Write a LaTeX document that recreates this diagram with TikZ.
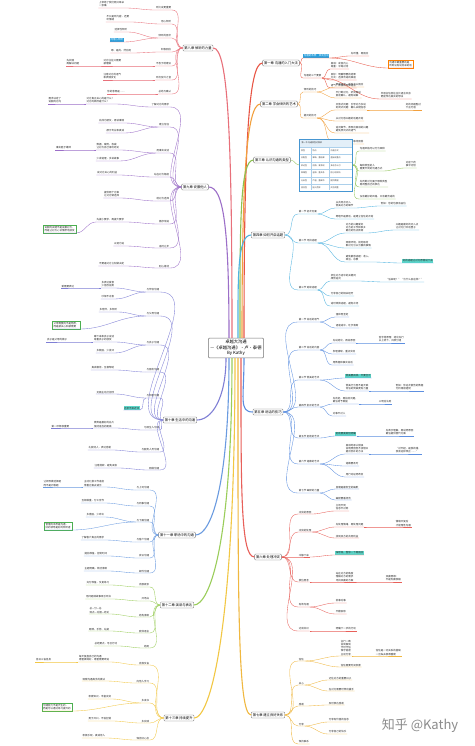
\documentclass[tikz,border=0pt]{standalone}
\usepackage{fontspec}
\setmainfont{Noto Sans CJK SC}
\definecolor{ka}{HTML}{E85545}
\definecolor{kb}{HTML}{F2A03D}
\definecolor{kc}{HTML}{8CC152}
\definecolor{kd}{HTML}{4FB3E0}
\definecolor{ke}{HTML}{5D8FE0}
\definecolor{kf}{HTML}{E8605A}
\definecolor{kg}{HTML}{F0B840}
\definecolor{kh}{HTML}{E8707A}
\definecolor{ki}{HTML}{9C6FC8}
\definecolor{kj}{HTML}{7F7FD5}
\definecolor{kk}{HTML}{6A9BE0}
\definecolor{kl}{HTML}{9ACD5A}
\definecolor{km}{HTML}{F2C744}
\definecolor{tb}{HTML}{4696D2}
\tikzset{
  chap/.style={draw=black!55, fill=white, rounded corners=1pt, font=\fontsize{3.3}{3.9}\selectfont, inner sep=1.5pt, line width=0.35pt},
  lfR/.style={anchor=south west, font=\fontsize{2.5}{3.1}\selectfont, inner sep=0.6pt, align=left, text=black!85},
  lfL/.style={anchor=south east, font=\fontsize{2.5}{3.1}\selectfont, inner sep=0.6pt, align=left, text=black!85},
  br/.style={line width=0.35pt},
  mainbr/.style={line width=1.1pt},
  hlblue/.style={fill={rgb,255:red,43;green,160;blue,220}, text=white},
  hlteal/.style={fill={rgb,255:red,92;green,214;blue,201}},
  gbox/.style={draw={rgb,255:red,76;green,175;blue,80}, fill=white, inner sep=1.2pt, line width=0.35pt},
  obox/.style={draw=orange, fill=white, inner sep=1.2pt, line width=0.35pt},
  cell/.style={anchor=west, font=\fontsize{2}{2.4}\selectfont, inner sep=0.3pt, text=black!75},
}
\newcommand\mmR[6][]{%
  \node[lfR,#1] (#5) at (#4) {#6};
  \draw[br,#3] (#2) to[out=0,in=180] (#5.south west) -- (#5.south east);
}
\newcommand\mmL[6][]{%
  \node[lfL,#1] (#5) at (#4) {#6};
  \draw[br,#3] (#2) to[out=180,in=0] (#5.south east) -- (#5.south west);
}
\begin{document}
\begin{tikzpicture}[x=1pt,y=-1pt]
\fill[white] (0,0) rectangle (474,746);
\useasboundingbox (0,0) rectangle (474,746);

% centre
\node[draw=black!55, fill=white, rounded corners=1pt, align=center, font=\fontsize{4.3}{5.6}\selectfont, inner sep=2pt, line width=0.4pt] (ctr) at (236,348) {卓越大沟通\\—《卓越沟通》·卢·泰德\\By Kathy};

% chapters
\node[chap] (c1) at (281,63) {第一章 沟通的入门大法};
\node[chap] (c2) at (279,104) {第二章 学会倾听的艺术};
\node[chap] (c3) at (272,160) {第三章 认识沟通的类型};
\node[chap] (c4) at (268,235) {第四章 如何开启话题};
\node[chap] (c5) at (268,412) {第五章 说话的技巧};
\node[chap] (c6) at (268,557) {第六章 处理冲突};
\node[chap] (c7) at (268,715) {第七章 建立良好关系};
\node[chap] (c8) at (198,48) {第八章 倾听的力量};
\node[chap] (c9) at (195,187) {第九章 说服他人};
\node[chap] (c10) at (180,420) {第十章 生活中的沟通};
\node[chap] (c11) at (177,535) {第十一章 职场中的沟通};
\node[chap] (c12) at (177,605) {第十二章 演讲与表达};
\node[chap] (c13) at (179,718) {第十三章 持续提升};

% main branches
\draw[mainbr,ka] ([xshift=8pt]ctr.north) .. controls +(0,-190) and +(-14,0) .. (c1.west);
\draw[mainbr,kb] ([xshift=6pt]ctr.north) .. controls +(0,-160) and +(-14,0) .. (c2.west);
\draw[mainbr,kc] ([xshift=4pt]ctr.north) .. controls +(0,-110) and +(-14,0) .. (c3.west);
\draw[mainbr,kd] ([xshift=2pt]ctr.north) .. controls +(0,-60) and +(-14,0) .. (c4.west);
\draw[mainbr,ke] ([xshift=8pt]ctr.south) .. controls +(0,40) and +(-14,0) .. (c5.west);
\draw[mainbr,kf] ([xshift=5pt]ctr.south) .. controls +(0,130) and +(-14,0) .. (c6.west);
\draw[mainbr,kg] ([xshift=2pt]ctr.south) .. controls +(0,230) and +(-14,0) .. (c7.west);
\draw[mainbr,kh] ([xshift=-4pt]ctr.north) .. controls +(0,-200) and +(15,0) .. (c8.east);
\draw[mainbr,ki] ([xshift=-7pt]ctr.north) .. controls +(0,-110) and +(15,0) .. (c9.east);
\draw[mainbr,kj] ([xshift=-10pt]ctr.south) .. controls +(0,40) and +(15,0) .. (c10.east);
\draw[mainbr,kk] ([xshift=-7pt]ctr.south) .. controls +(0,130) and +(15,0) .. (c11.east);
\draw[mainbr,kl] ([xshift=-4pt]ctr.south) .. controls +(0,190) and +(15,0) .. (c12.east);
\draw[mainbr,km] ([xshift=-1pt]ctr.south) .. controls +(0,280) and +(15,0) .. (c13.east);

% ---- chapter 1
\mmR[hlblue]{c1.east}{ka}{303,58}{s1a}{沟通的本质：双向互动}
\mmR{s1a.south east}{ka}{350,56}{l1a}{先听懂，再回应}
\mmR[obox]{s1a.south east}{ka}{388,68}{l1b}{沟通中最重要的是\\听到没有说出来的话}
\mmR{c1.east}{ka}{303,78}{s1b}{沟通的三个要素}
\mmR{s1b.south east}{ka}{330,69}{l1c}{真诚：发自内心\\尊重：平等对待}
\mmR{s1b.south east}{ka}{330,80}{l1d}{目标：明确想要的结果\\方式：选择合适的渠道}
\mmR{s1b.south east}{ka}{330,88}{l1e}{语气、表情和肢体语言}
\mmR{s1b.south east}{ka}{380,99}{l1f}{非语言信息往往比语言本身\\更能传达真实的想法}

% ---- chapter 2
\mmR{c2.east}{kb}{303,92}{s2a}{倾听的技巧}
\mmR{s2a.south east}{kb}{335,87}{l2a}{眼神交流，适时点头回应}
\mmR{s2a.south east}{kb}{335,98}{l2b}{不打断对方，听完再说\\复述确认，避免误解}
\mmR{c2.east}{kb}{303,118}{s2b}{提问的技巧}
\mmR{s2b.south east}{kb}{335,110}{l2c}{开放式问题：引导对方多说\\封闭式问题：确认关键信息}
\mmR{s2b.south east}{kb}{335,121}{l2d}{从对方感兴趣的话题开始}
\mmR{s2b.south east}{kb}{335,133}{l2e}{追问细节，表现出真诚的兴趣\\避免质问式的语气}
\mmR{s2b.south east}{kb}{335,144}{l2f}{提问之后要耐心等待回答}
\mmR{l2c.south east}{kb}{405,110}{l2g}{好的问题胜过\\千言万语}

% ---- chapter 3 (table picture)
\node[draw=tb, line width=0.6pt, fill=white, minimum width=53pt, minimum height=52pt, inner sep=0pt] (tbl) at (326,165) {};
\fill[tb!15] ([shift={(1,1)}]tbl.north west) rectangle ([shift={(-1,8)}]tbl.north east);
\node[cell, text=black!85] (tt) at ([shift={(2,4.5)}]tbl.north west) {第一节 沟通类型对照表};
\foreach \r in {8,15.5,23,30.5,38,45.5} {\draw[tb!45, line width=0.2pt] ([shift={(1,\r)}]tbl.north west) -- ([shift={(-1,\r)}]tbl.north east);}
\draw[tb!45, line width=0.2pt] ([shift={(12,8)}]tbl.north west) -- ([shift={(12,-1)}]tbl.south west);
\draw[tb!45, line width=0.2pt] ([shift={(30,8)}]tbl.north west) -- ([shift={(30,-1)}]tbl.south west);
\foreach \r/\a/\b/\c in {11.8/类型/特点/沟通方式, 19.3/支配型/果断、重结果/直接说重点, 26.8/表达型/热情、爱表现/多给予认可, 34.3/和蔼型/温和、重关系/耐心地倾听, 41.8/分析型/严谨、重细节/提供数据, 49/混合型/因人而异/灵活调整} {
  \node[cell] at ([shift={(1.5,\r)}]tbl.north west) {\a};
  \node[cell] at ([shift={(12.8,\r)}]tbl.north west) {\b};
  \node[cell] at ([shift={(30.8,\r)}]tbl.north west) {\c};
}
\draw[br,kc] (c3.east) to[out=0,in=180] (tbl.west);
\mmR{tbl.east}{kc}{359,151}{l3a}{沟通风格可以分为四种}
\mmR{tbl.east}{kc}{359,171}{l3b}{每种类型的人\\需要不同的沟通方式}
\mmR{tbl.east}{kc}{359,187}{l3c}{先判断对方属于哪种类型\\再调整自己的表达}
\mmR{tbl.east}{kc}{359,199}{l3d}{没有最好的风格，只有最合适的}
\mmR{l3b.south east}{kc}{405,168}{l3e}{对症下药\\事半功倍}

% ---- chapter 4
\mmR{c4.east}{kd}{298,214}{s4a}{第一节 初次见面}
\mmR{s4a.south east}{kd}{335,208}{l4a}{从共同点切入\\赞美对方的细节}
\mmR{s4a.south east}{kd}{335,219}{l4b}{寒暄不是废话，是建立信任的开始}
\mmR{l4a.south east}{kd}{380,206}{l4j}{例如：您的包很有品位}
\mmR{c4.east}{kd}{298,243}{s4b}{第二节 寻找话题}
\mmR{s4b.south east}{kd}{345,233}{l4c}{对方的兴趣爱好\\对方的工作和家乡\\最近的热点新闻}
\mmR{l4c.south east}{kd}{395,230}{l4k}{兴趣是最好的切入点\\让对方打开话匣子}
\mmR{s4b.south east}{kd}{345,248}{l4d}{观察环境，就地取材\\聊对方引以为傲的事情}
\mmR{s4b.south east}{kd}{345,262}{l4f}{避免敏感话题：收入、\\政治、宗教}
\mmR[hlteal]{l4f.south east}{kd}{402,263}{l4e}{好的话题让对方愿意说下去}
\mmR{c4.east}{kd}{298,290}{s4c}{第三节 延续话题}
\mmR{s4c.south east}{kd}{330,281}{l4g}{抓住对方话中的关键词\\顺势追问}
\mmR{s4c.south east}{kd}{330,296}{l4h}{分享自己的相关经历}
\mmR{s4c.south east}{kd}{330,306}{l4i}{适时转换话题，避免冷场}
\mmR{l4g.south east}{kd}{385,282}{l4l}{“后来呢？”“为什么会这样？”}

% ---- chapter 5
\mmR{c5.east}{ke}{298,322}{s5a}{第一节 说话的语气}
\mmR{s5a.south east}{ke}{335,317}{l5a}{温和而坚定}
\mmR{s5a.south east}{ke}{335,328}{l5b}{语速适中，吐字清晰}
\mmR{c5.east}{ke}{298,350}{s5b}{第二节 说话的内容}
\mmR{s5b.south east}{ke}{332,343}{l5c}{先说结论，再说原因}
\mmR{l5c.south east}{ke}{378,343}{l5p}{金字塔原理：结论先行\\以上统下，归类分组}
\mmR{s5b.south east}{ke}{332,354}{l5d}{条理清晰，重点突出}
\mmR{s5b.south east}{ke}{332,365}{l5e}{用数据和事实说话}
\mmR{c5.east}{ke}{298,380}{s5c}{第三节 赞美的艺术}
\mmR[hlteal]{s5c.south east}{ke}{345,378}{l5f}{赞美要具体，不要空泛}
\mmR{s5c.south east}{ke}{345,391}{l5g}{赞美行为而不是天赋\\背后的赞美更有力量}
\mmR{l5g.south east}{ke}{395,391}{l5q}{例如：你这次报告的数据\\分析得很透彻}
\mmR{c5.east}{ke}{298,407}{s5d}{第四节 批评的艺术}
\mmR{s5d.south east}{ke}{332,404}{l5h}{先肯定，再指出问题，\\最后给予鼓励}
\mmR{l5h.south east}{ke}{378,404}{l5r}{三明治法则}
\mmR{s5d.south east}{ke}{332,416}{l5i}{对事不对人}
\mmR{c5.east}{ke}{298,438}{s5e}{第五节 拒绝的艺术}
\mmR[hlteal]{s5e.south east}{ke}{335,436}{l5j}{拒绝要委婉但明确}
\mmR{l5j.south east}{ke}{385,436}{l5s}{先表示理解，再说明原因\\最后提供替代方案}
\mmR{c5.east}{ke}{298,464}{s5f}{第六节 道歉的艺术}
\mmR{s5f.south east}{ke}{345,454}{l5k}{真诚地承认错误\\说明原因但不找借口\\提出弥补的方法}
\mmR{l5k.south east}{ke}{395,454}{l5t}{“对不起，是我的错，\\我会这样改正……”}
\mmR{s5f.south east}{ke}{345,466}{l5l}{道歉要及时}
\mmR{s5f.south east}{ke}{345,477}{l5m}{用行动证明改变}
\mmR{c5.east}{ke}{298,493}{s5g}{第七节 幽默的力量}
\mmR{s5g.south east}{ke}{335,489}{l5n}{自嘲是最安全的幽默}
\mmR{s5g.south east}{ke}{335,500}{l5o}{幽默要看场合}

% ---- chapter 6
\mmR{c6.east}{kf}{298,514}{s6a}{冲突的原因}
\mmR{s6a.south east}{kf}{335,511}{l6a}{立场不同\\信息不对称}
\mmR{c6.east}{kf}{298,532}{s6b}{冲突的处理}
\mmR{s6b.south east}{kf}{335,527}{l6b}{先处理情绪，再处理问题}
\mmR{l6b.south east}{kf}{395,527}{l6i}{情绪平复后\\才能理性沟通}
\mmR{s6b.south east}{kf}{335,538}{l6c}{找到双方的共同利益}
\mmR{c6.east}{kf}{298,557}{s6c}{冷静下来}
\mmR[hlteal]{s6c.south east}{kf}{335,555}{l6d}{深呼吸，暂停一下再回应}
\mmR{c6.east}{kf}{298,582}{s6d}{换位思考}
\mmR{s6d.south east}{kf}{335,582}{l6e}{站在对方的角度\\理解对方的需求\\寻找双赢的方案}
\mmR{l6e.south east}{kf}{385,582}{l6j}{双赢思维：\\不是你赢我输}
\mmR{c6.east}{kf}{298,607}{s6e}{有效沟通}
\mmR{s6e.south east}{kf}{335,603}{l6f}{就事论事}
\mmR{s6e.south east}{kf}{335,614}{l6g}{不翻旧账}
\mmR{c6.east}{kf}{298,631}{s6f}{达成共识}
\mmR{s6f.south east}{kf}{335,631}{l6h}{明确下一步的行动}

% ---- chapter 7
\mmR{c7.east}{kg}{298,661}{s7a}{信任}
\mmR{s7a.south east}{kg}{340,656}{l7a}{言行一致\\说到做到\\守时守信\\保守秘密\\主动分享}
\mmR{l7a.south east}{kg}{375,656}{l7h}{信任是一切关系的基础\\一旦失去很难重建}
\mmR{s7a.south east}{kg}{340,667}{l7b}{信任需要时间积累}
\mmR{c7.east}{kg}{298,685}{s7b}{关心}
\mmR{s7b.south east}{kg}{328,680}{l7c}{记住对方的重要日子}
\mmR{s7b.south east}{kg}{328,691}{l7d}{在对方需要时伸出援手}
\mmR{c7.east}{kg}{298,706}{s7c}{感谢}
\mmR{s7c.south east}{kg}{328,705}{l7e}{及时表达感谢}
\mmR{c7.east}{kg}{298,726}{s7d}{分享}
\mmR{s7d.south east}{kg}{328,722}{l7f}{分享有价值的信息}
\mmR{s7d.south east}{kg}{328,734}{l7g}{分享自己的快乐}
\mmR{c7.east}{kg}{298,744}{s7e}{保持联系}

% ---- chapter 8
\mmL{c8.west}{kh}{172,10}{s8a}{听比说更重要}
\mmL{s8a.south west}{kh}{125,8}{l8a}{上帝给了我们两只耳朵\\一张嘴}
\mmL{c8.west}{kh}{172,24}{s8b}{用心倾听}
\mmL{s8b.south west}{kh}{130,22}{l8b}{不只是听内容，还要\\听情绪}
\mmL{c8.west}{kh}{172,38}{s8c}{倾听的层次}
\mmL{s8c.south west}{kh}{128,32}{l8d}{选择性倾听}
\mmL[hlblue]{s8c.south west}{kh}{124,42}{l8c}{同理心倾听}
\mmL{c8.west}{kh}{172,52}{s8d}{积极回应}
\mmL{s8d.south west}{kh}{132,53}{l8e}{嗯、是的、然后呢}
\mmL{c8.west}{kh}{172,66}{s8e}{不急于给建议}
\mmL{s8e.south west}{kh}{122,66}{l8f}{对方往往只需要\\被理解}
\mmL{l8f.south west}{kh}{80,66}{l8i}{先共情\\再解决问题}
\mmL{c8.west}{kh}{172,80}{s8f}{听出弦外之音}
\mmL{s8f.south west}{kh}{122,80}{l8g}{注意对方的语气\\和表情变化}
\mmL{c8.west}{kh}{172,94}{s8g}{总结与确认}
\mmL{s8g.south west}{kh}{126,94}{l8h}{你的意思是……}

% ---- chapter 9
\mmL{c9.west}{ki}{170,107}{s9a}{了解对方的需求}
\mmL{s9a.south west}{ki}{115,104}{l9a}{对方真正关心的是什么？\\对方的顾虑是什么？}
\mmL{l9a.south west}{ki}{62,104}{l9l}{需求决定了\\说服的方向}
\mmL{c9.west}{ki}{170,127}{s9b}{建立信任}
\mmL{s9b.south west}{ki}{125,123}{l9b}{先成为朋友，再谈事情}
\mmL{s9b.south west}{ki}{125,133}{l9c}{展示专业和真诚}
\mmL{c9.west}{ki}{170,153}{s9c}{用事实说话}
\mmL{s9c.south west}{ki}{120,150}{l9d}{数据、案例、权威\\让对方自己得出结论}
\mmL{l9d.south west}{ki}{72,150}{l9m}{事实胜于雄辩}
\mmL{s9c.south west}{ki}{120,161}{l9e}{少讲道理，多讲故事}
\mmL{c9.west}{ki}{170,177}{s9d}{站在对方角度}
\mmL{s9d.south west}{ki}{118,175}{l9f}{说对方关心的利益}
\mmL{c9.west}{ki}{170,201}{s9e}{给对方选择}
\mmL{s9e.south west}{ki}{120,198}{l9g}{提供两个方案\\让对方做选择}
\mmL{c9.west}{ki}{170,224}{s9f}{循序渐进}
\mmL{s9f.south west}{ki}{125,222}{l9h}{先提小要求，再提大要求}
\mmL[gbox]{l9h.south west}{ki}{76,233}{l9i}{说服的关键不是说赢对方，\\而是让对方心甘情愿地接受}
\mmL{c9.west}{ki}{170,248}{s9g}{适时让步}
\mmL{s9g.south west}{ki}{125,246}{l9j}{以退为进}
\mmL{c9.west}{ki}{170,268}{s9h}{耐心等待}
\mmL{s9h.south west}{ki}{125,266}{l9k}{不要逼对方立刻做决定}

% ---- chapter 10
\mmL{c10.west}{kj}{160,292}{s10a}{与伴侣沟通}
\mmL{s10a.south west}{kj}{115,288}{l10a}{多表达爱意\\少抱怨指责}
\mmL{l10a.south west}{kj}{75,288}{l10m}{爱需要表达}
\mmL{s10a.south west}{kj}{115,299}{l10b}{吵架不过夜}
\mmL{c10.west}{kj}{160,316}{s10b}{与父母沟通}
\mmL{s10b.south west}{kj}{118,312}{l10c}{多陪伴，多倾听}
\mmL[gbox]{s10b.south west}{kj}{80,329}{l10d}{父母需要的不是物质，\\而是被关心和被需要}
\mmL{c10.west}{kj}{160,345}{s10c}{与孩子沟通}
\mmL{s10c.south west}{kj}{115,342}{l10e}{蹲下来和孩子说话\\尊重孩子的感受}
\mmL{l10e.south west}{kj}{68,342}{l10n}{孩子是父母的镜子}
\mmL{s10c.south west}{kj}{115,353}{l10f}{多鼓励，少批评}
\mmL{c10.west}{kj}{160,372}{s10d}{与朋友沟通}
\mmL{s10d.south west}{kj}{115,370}{l10g}{真诚相待，互相帮助}
\mmL{c10.west}{kj}{160,398}{s10e}{与邻居沟通}
\mmL{s10e.south west}{kj}{115,394}{l10h}{见面主动打招呼}
\mmL[hlteal]{s10e.south west}{kj}{140,410}{l10i}{远亲不如近邻}
\mmL{c10.west}{kj}{160,430}{s10f}{与陌生人沟通}
\mmL{s10f.south west}{kj}{115,428}{l10j}{微笑是最好的名片\\保持适当的距离}
\mmL{l10j.south west}{kj}{70,428}{l10o}{第一印象很重要}
\mmL{c10.west}{kj}{160,452}{s10g}{与服务人员沟通}
\mmL{s10g.south west}{kj}{112,450}{l10k}{礼貌待人，表达感谢}
\mmL{c10.west}{kj}{160,470}{s10h}{网络沟通}
\mmL{s10h.south west}{kj}{118,468}{l10l}{注意措辞，避免误会}

% ---- chapter 11
\mmL{c11.west}{kk}{150,490}{s11a}{与上司沟通}
\mmL{s11a.south west}{kk}{105,487}{l11a}{主动汇报工作进度\\带着方案去请示}
\mmL{l11a.south west}{kk}{62,487}{l11h}{让领导做选择题\\而不是问答题}
\mmL{c11.west}{kk}{150,506}{s11b}{与同事沟通}
\mmL{s11b.south west}{kk}{105,503}{l11b}{互相尊重，分工合作}
\mmL{c11.west}{kk}{150,522}{s11c}{与下属沟通}
\mmL{s11c.south west}{kk}{105,517}{l11c}{多激励，少命令}
\mmL[gbox]{s11c.south west}{kk}{72,530}{l11d}{管理的本质是沟通，\\好的领导是好的倾听者}
\mmL{c11.west}{kk}{150,542}{s11d}{与客户沟通}
\mmL{s11d.south west}{kk}{105,540}{l11e}{了解客户真正的需求}
\mmL{c11.west}{kk}{150,558}{s11e}{会议沟通}
\mmL{s11e.south west}{kk}{108,556}{l11f}{提前准备，控制时间}
\mmL{c11.west}{kk}{150,573}{s11f}{邮件沟通}
\mmL{s11f.south west}{kk}{108,571}{l11g}{主题明确，简洁清晰}

% ---- chapter 12
\mmL{c12.west}{kl}{150,587}{s12a}{克服紧张}
\mmL{s12a.south west}{kl}{110,585}{l12a}{充分准备，反复练习}
\mmL{c12.west}{kl}{150,601}{s12b}{开场白}
\mmL{s12b.south west}{kl}{112,599}{l12b}{用问题或故事吸引听众}
\mmL{c12.west}{kl}{150,617}{s12c}{结构清晰}
\mmL{s12c.south west}{kl}{110,614}{l12c}{总—分—总\\观点—论据—结论}
\mmL{c12.west}{kl}{150,633}{s12d}{肢体语言}
\mmL{s12d.south west}{kl}{110,631}{l12d}{眼神、手势、站姿}
\mmL{c12.west}{kl}{150,648}{s12e}{结尾}
\mmL{s12e.south west}{kl}{118,646}{l12e}{总结要点，号召行动}

% ---- chapter 13
\mmL{c13.west}{km}{150,665}{s13a}{自我反省}
\mmL{s13a.south west}{km}{110,662}{l13a}{每天复盘自己的沟通\\哪里做得好，哪里需要改进}
\mmL{l13a.south west}{km}{52,662}{l13g}{吾日三省吾身}
\mmL{c13.west}{km}{150,683}{s13b}{向他人学习}
\mmL{s13b.south west}{km}{106,681}{l13b}{观察沟通高手的做法}
\mmL{c13.west}{km}{150,703}{s13c}{多读书}
\mmL{s13c.south west}{km}{112,699}{l13c}{积累知识，丰富谈资}
\mmL[gbox]{s13c.south west}{km}{72,711}{l13d}{沟通能力不是天生的，\\而是可以通过练习提升的}
\mmL{c13.west}{km}{150,723}{s13d}{多实践}
\mmL{s13d.south west}{km}{112,721}{l13e}{勇于开口，不怕犯错}
\mmL{c13.west}{km}{150,740}{s13e}{保持好心态}
\mmL{s13e.south west}{km}{106,738}{l13f}{积极乐观，真诚待人}

% watermark
\node[font=\fontsize{13}{13}\selectfont, text=black!45] (wm) at (420,726) {知乎 @Kathy};
\end{tikzpicture}
\end{document}
